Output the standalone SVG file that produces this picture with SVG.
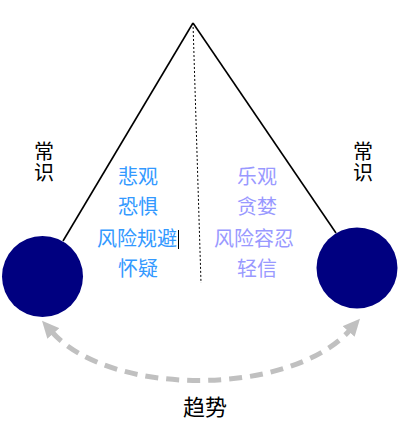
<svg xmlns="http://www.w3.org/2000/svg" width="410" height="426" viewBox="0 0 410 426">
  <style>
    .t { font-family: "Noto Sans CJK SC", "Noto Sans", sans-serif; text-anchor: middle; }
    .vert { font-family: "Noto Sans CJK SC", "Noto Sans", sans-serif; font-size: 20px; fill: #000000; writing-mode: vertical-rl; text-anchor: start; letter-spacing: 1px; }
    .blue { font-size: 20px; fill: #3399FF; }
    .purple { font-size: 20px; fill: #9999FF; }
    .rod { stroke: #000000; stroke-width: 1.6; fill: none; }
    .ball { fill: #000080; }
  </style>
  <defs>
    <marker id="ah" markerUnits="userSpaceOnUse" markerWidth="18" markerHeight="16" viewBox="0 0 18 16" refX="2" refY="8" orient="auto-start-reverse">
      <path d="M0,0 L17,8 L0,16 Z" fill="#C0C0C0"/>
    </marker>
  </defs>
  <rect width="410" height="426" fill="#FFFFFF"/>
  <g id="connectors">
    <line class="rod" x1="193" y1="23" x2="63" y2="241"/>
    <line class="rod" x1="193" y1="23" x2="336" y2="233"/>
    <line x1="193" y1="23" x2="201" y2="283" stroke="#000000" stroke-width="1" stroke-dasharray="2 2"/>
    <path d="M 52 332 C 110 397, 290 397, 350 330" fill="none" stroke="#C0C0C0" stroke-width="5" stroke-dasharray="13 8" marker-start="url(#ah)" marker-end="url(#ah)"/>
  </g>
  <g id="ball-left">
    <circle class="ball" cx="42.5" cy="276.5" r="40.5"/>
  </g>
  <g id="ball-right">
    <circle class="ball" cx="357" cy="268" r="40.5"/>
  </g>
  <g id="label-left">
    <text class="vert" x="44" y="141">常识</text>
  </g>
  <g id="label-right">
    <text class="vert" x="363" y="141">常识</text>
  </g>
  <g id="pessimism">
    <text class="t blue" x="138" y="184">悲观</text>
    <text class="t blue" x="138" y="214">恐惧</text>
    <text class="t blue" x="137" y="245.5">风险规避</text>
    <text class="t blue" x="138" y="275.5">怀疑</text>
    <line x1="178.5" y1="230" x2="178.5" y2="249" stroke="#000000" stroke-width="1"/>
  </g>
  <g id="optimism">
    <text class="t purple" x="257" y="184">乐观</text>
    <text class="t purple" x="257" y="214">贪婪</text>
    <text class="t purple" x="254" y="245.5">风险容忍</text>
    <text class="t purple" x="257" y="275.5">轻信</text>
  </g>
  <g id="trend">
    <text class="t" x="205" y="415" font-size="22" fill="#000000">趋势</text>
  </g>
</svg>
